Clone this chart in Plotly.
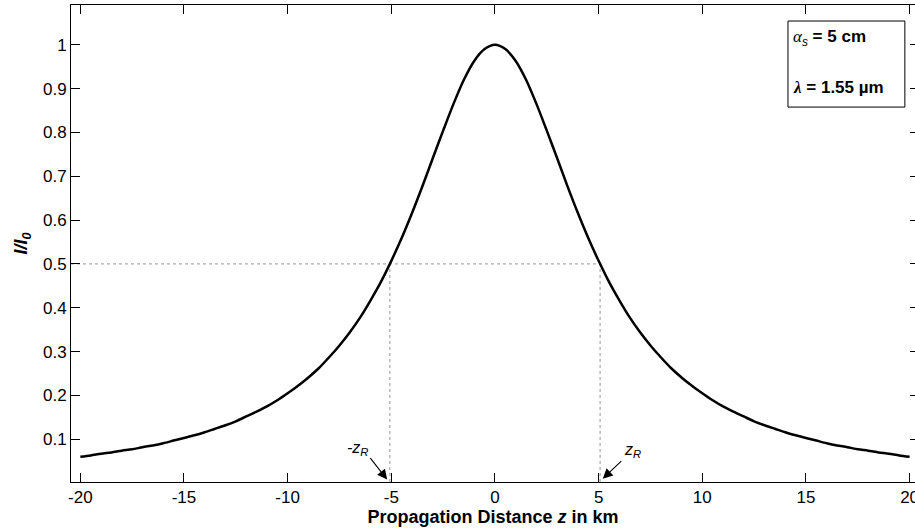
import plotly.graph_objects as go

# Propagation distance z (km) and normalized intensity I/I0
z_km = [-20, -19.5, -19, -18.5, -18, -17.5, -17, -16.5, -16, -15.5, -15, -14.5, -14,
        -13.5, -13, -12.5, -12, -11.5, -11, -10.5, -10, -9.5, -9, -8.5, -8, -7.5, -7,
        -6.5, -6, -5.5, -5, -4.5, -4, -3.5, -3, -2.5, -2, -1.5, -1, -0.5, 0,
        0.5, 1, 1.5, 2, 2.5, 3, 3.5, 4, 4.5, 5, 5.5, 6, 6.5, 7, 7.5, 8, 8.5, 9, 9.5,
        10, 10.5, 11, 11.5, 12, 12.5, 13, 13.5, 14, 14.5, 15, 15.5, 16, 16.5, 17,
        17.5, 18, 18.5, 19, 19.5, 20]
intensity = [0.060, 0.063, 0.067, 0.070, 0.074, 0.077, 0.082, 0.086, 0.091, 0.097,
             0.103, 0.109, 0.116, 0.124, 0.132, 0.141, 0.152, 0.163, 0.175, 0.189,
             0.205, 0.222, 0.241, 0.262, 0.287, 0.314, 0.344, 0.378, 0.417, 0.459,
             0.507, 0.559, 0.616, 0.677, 0.741, 0.804, 0.865, 0.920, 0.963, 0.990,
             1.000,
             0.990, 0.963, 0.920, 0.865, 0.804, 0.741, 0.677, 0.616, 0.559, 0.507,
             0.459, 0.417, 0.378, 0.344, 0.314, 0.287, 0.262, 0.241, 0.222, 0.205,
             0.189, 0.175, 0.163, 0.152, 0.141, 0.132, 0.124, 0.116, 0.109, 0.103,
             0.097, 0.091, 0.086, 0.082, 0.077, 0.074, 0.070, 0.067, 0.063, 0.060]

z_rayleigh = [-5.07, 5.07]    # -zR, zR (km)
half_level = 0.5

# zR labels and arrows (data coordinates)
zr_labels = ["<i>-z<sub>R</sub></i>", "<i>z<sub>R</sub></i>"]
zr_label_x = [-6.65, 6.65]
zr_label_y = [0.079, 0.075]
zr_arrow_tip_x = [-5.2, 5.2]
zr_arrow_tip_y = [0.008, 0.010]

x_ticks = [-20, -15, -10, -5, 0, 5, 10, 15, 20]
x_tick_text = ["-20", "-15", "-10", "-5", "0", "5", "10", "15", "20"]
y_ticks = [0.1, 0.2, 0.3, 0.4, 0.5, 0.6, 0.7, 0.8, 0.9, 1.0]
y_tick_text = ["0.1", "0.2", "0.3", "0.4", "0.5", "0.6", "0.7", "0.8", "0.9", "1"]

x_range = [-20.45, 20.26]
y_range = [0.0025, 1.0906]

FONT = "Liberation Sans, Arial, sans-serif"
dot_color = "rgb(150,150,150)"

fig = go.Figure()

# dotted guide lines
fig.add_trace(go.Scatter(x=[x_range[0], z_rayleigh[1]], y=[half_level, half_level],
                         mode="lines", line=dict(color=dot_color, width=1, dash="dot"),
                         hoverinfo="skip", showlegend=False))
for zr in z_rayleigh:
    fig.add_trace(go.Scatter(x=[zr, zr], y=[y_range[0], half_level],
                             mode="lines", line=dict(color=dot_color, width=1, dash="dot"),
                             hoverinfo="skip", showlegend=False))

fig.add_trace(go.Scatter(x=z_km, y=intensity, mode="lines",
                         line=dict(color="black", width=2.5, shape="spline", smoothing=0.8),
                         showlegend=False))

fig.update_layout(
    width=915, height=528,
    margin=dict(l=71, r=0, t=5, b=46, autoexpand=False),
    paper_bgcolor="white", plot_bgcolor="white",
    font=dict(family=FONT, size=17, color="black"),
    xaxis=dict(range=x_range, tickvals=x_ticks, ticktext=x_tick_text, ticks="inside",
               ticklen=9, tickcolor="black", showline=True, linecolor="black",
               linewidth=1, mirror="ticks", showgrid=False, zeroline=False,
               ticklabeloverflow="allow", automargin=False,
               tickfont=dict(size=17, family=FONT),
               title=dict(text="<b>Propagation Distance <i>z</i> in km</b>",
                          font=dict(size=18, family=FONT), standoff=2)),
    yaxis=dict(range=y_range, tickvals=y_ticks, ticktext=y_tick_text, ticks="inside",
               ticklen=9, tickcolor="black", showline=True, linecolor="black",
               linewidth=1, showgrid=False, zeroline=False, automargin=False,
               tickfont=dict(size=17, family=FONT),
               title=dict(text="<b><i>I/I<sub>0</sub></i></b>",
                          font=dict(size=18, family=FONT), standoff=10)),
    yaxis2=dict(range=y_range, tickvals=y_ticks, ticks="inside", ticklen=5,
                tickcolor="black", showticklabels=False, showline=False,
                showgrid=False, zeroline=False, overlaying="y", side="right",
                automargin=False),
)

# invisible trace on y2 so the right-hand ticks are drawn
fig.add_trace(go.Scatter(x=[0], y=[0.5], yaxis="y2", mode="markers",
                         marker=dict(opacity=0), hoverinfo="skip", showlegend=False))

# legend-like box
fig.add_shape(type="rect", xref="paper", yref="paper", x0=0.8495, x1=0.988,
              y0=0.786, y1=0.9664, line=dict(color="black", width=1),
              fillcolor="white", layer="above")
fig.add_annotation(xref="paper", yref="paper", x=0.853, y=0.931, xanchor="left",
                   yanchor="middle", showarrow=False,
                   text="<span style='font-family:Liberation Serif'><i>α</i></span><sub><i>s</i></sub><b> = 5 cm</b>",
                   font=dict(size=17, family=FONT))
fig.add_annotation(xref="paper", yref="paper", x=0.853, y=0.826, xanchor="left",
                   yanchor="middle", showarrow=False,
                   text="<b><span style='font-family:Liberation Serif'><i>λ</i></span> = 1.55 µm</b>",
                   font=dict(size=17, family=FONT))

# zR labels and arrows
arrow_tails = [(-18, -23), (20, -19)]
for lab, lx, ly, tx, ty, (axp, ayp) in zip(zr_labels, zr_label_x, zr_label_y,
                                          zr_arrow_tip_x, zr_arrow_tip_y, arrow_tails):
    fig.add_annotation(x=lx, y=ly, text=lab, showarrow=False,
                       font=dict(size=16, family=FONT))
    fig.add_annotation(x=tx, y=ty, ax=axp, ay=ayp, text="", showarrow=True,
                       arrowhead=2, arrowsize=1.8, arrowwidth=1.1,
                       arrowcolor="black", standoff=0)

fig.write_html("out.html")
